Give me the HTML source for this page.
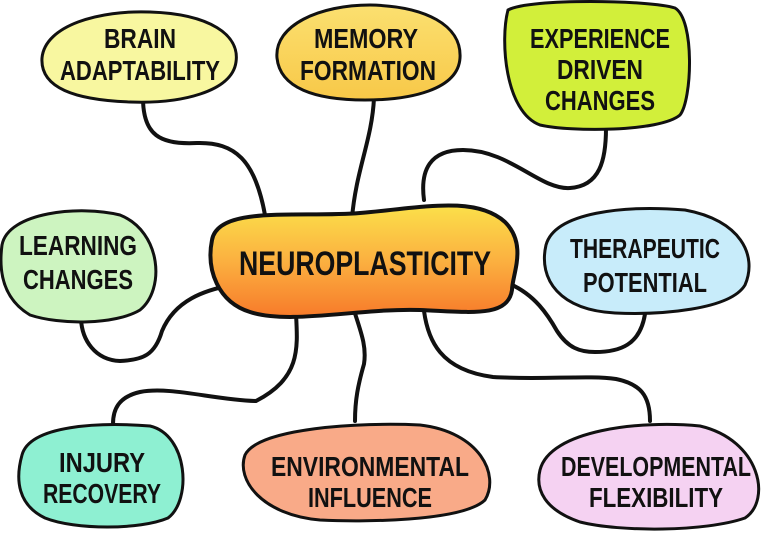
<!DOCTYPE html>
<html><head><meta charset="utf-8"><style>
html,body{margin:0;padding:0;background:#fff;width:768px;height:534px;overflow:hidden}
text{font-family:"Liberation Sans Narrow","Liberation Sans",sans-serif;fill:#111;text-anchor:middle;font-weight:bold}
</style></head><body>
<svg width="768" height="534" viewBox="0 0 768 534" xmlns="http://www.w3.org/2000/svg">
<defs>
<linearGradient id="c" x1="0" y1="0" x2="0" y2="1"><stop offset="0" stop-color="#fbe04a"/><stop offset="0.5" stop-color="#fbb040"/><stop offset="1" stop-color="#f77a2a"/></linearGradient>
<linearGradient id="m" x1="0" y1="0" x2="0" y2="1"><stop offset="0" stop-color="#fbe070"/><stop offset="1" stop-color="#f8c848"/></linearGradient>
</defs>
<g fill="none" stroke="#111" stroke-width="4" stroke-linecap="round">
<path d="M143 98 C143 135,160 145,197 143 C235 142,255 160,265 215"/>
<path d="M374 98 C372 140,356 170,352 218"/>
<path d="M424 200 C420 170,430 150,463 150 C510 150,540 190,570 188 C600 186,606 160,606 128"/>
<path d="M232 285 C205 290,175 300,162 331 C155 355,143 360,120 361 C95 360,82 340,81 319"/>
<path d="M296 314 C298 350,300 378,256 401 C215 400,170 386,140 392 C118 397,113 410,113 424"/>
<path d="M352 304 C360 330,367 345,364 364 C358 385,355 400,355 421"/>
<path d="M424 311 C428 340,440 370,493 377 C540 380,590 375,616 379 C640 384,650 395,650 421"/>
<path d="M510 284 C535 295,548 315,557 331 C568 348,580 352,595 352 C620 352,640 345,645 314"/>
</g>
<g stroke="#111" stroke-width="3">
<path d="M42 58 C45 25,100 10,150 12 C210 14,240 35,236 62 C232 92,180 104,130 102 C75 100,40 88,42 58Z" fill="#f8f7a0"/>
<path d="M277 58 C274 25,320 5,370 5 C425 6,462 25,460 58 C458 90,410 100,365 100 C315 100,280 88,277 58Z" fill="url(#m)"/>
<path d="M508 10 C530 -2,650 0,675 8 C695 20,692 100,680 115 C660 132,570 132,540 125 C505 112,500 40,508 10Z" fill="#d2ef3a"/>
<path d="M2 245 C8 212,80 205,120 215 C162 232,165 290,140 310 C115 325,60 325,30 315 C5 300,-2 275,2 245Z" fill="#cdf4c0"/>
<path d="M546 245 C555 212,625 205,685 210 C740 220,758 255,745 285 C730 310,660 315,615 313 C560 310,538 280,546 245Z" fill="#c8ecfa"/>
<path d="M22 455 C30 425,100 422,150 426 C188 435,192 500,168 518 C140 530,75 530,45 518 C18 505,15 480,22 455Z" fill="#8ef0d2"/>
<path d="M245 455 C258 428,360 422,420 425 C480 432,500 475,485 500 C462 522,360 522,320 520 C262 515,236 480,245 455Z" fill="#f9aa88"/>
<path d="M540 470 C550 430,640 420,700 426 C760 440,772 500,745 518 C705 532,620 532,580 522 C545 510,535 490,540 470Z" fill="#f5d2f2"/>
<path d="M212 240 C218 205,300 218,360 213 C420 208,475 195,505 222 C528 245,512 275,512 290 C508 318,470 312,420 310 C360 308,290 325,250 312 C218 302,206 270,212 240Z" fill="url(#c)" stroke-width="4"/>
</g>
<g font-size="28">
<text x="140" y="48" textLength="72" lengthAdjust="spacingAndGlyphs">BRAIN</text>
<text x="140" y="80" textLength="160" lengthAdjust="spacingAndGlyphs">ADAPTABILITY</text>
<text x="366" y="48" textLength="104" lengthAdjust="spacingAndGlyphs">MEMORY</text>
<text x="368" y="80" textLength="136" lengthAdjust="spacingAndGlyphs">FORMATION</text>
<text x="600" y="48" textLength="140" lengthAdjust="spacingAndGlyphs">EXPERIENCE</text>
<text x="600" y="79" textLength="86" lengthAdjust="spacingAndGlyphs">DRIVEN</text>
<text x="600" y="110" textLength="110" lengthAdjust="spacingAndGlyphs">CHANGES</text>
<text x="78" y="255" textLength="118" lengthAdjust="spacingAndGlyphs">LEARNING</text>
<text x="78" y="289" textLength="110" lengthAdjust="spacingAndGlyphs">CHANGES</text>
<text x="645" y="258" textLength="150" lengthAdjust="spacingAndGlyphs">THERAPEUTIC</text>
<text x="645" y="292" textLength="124" lengthAdjust="spacingAndGlyphs">POTENTIAL</text>
<text x="102" y="472" textLength="86" lengthAdjust="spacingAndGlyphs">INJURY</text>
<text x="102" y="503" textLength="118" lengthAdjust="spacingAndGlyphs">RECOVERY</text>
<text x="370" y="476" textLength="198" lengthAdjust="spacingAndGlyphs">ENVIRONMENTAL</text>
<text x="370" y="507" textLength="124" lengthAdjust="spacingAndGlyphs">INFLUENCE</text>
<text x="656" y="476" textLength="190" lengthAdjust="spacingAndGlyphs">DEVELOPMENTAL</text>
<text x="656" y="507" textLength="134" lengthAdjust="spacingAndGlyphs">FLEXIBILITY</text>
<text x="365" y="275" font-size="34" textLength="252" lengthAdjust="spacingAndGlyphs">NEUROPLASTICITY</text>
</g>
</svg>
</body></html>
